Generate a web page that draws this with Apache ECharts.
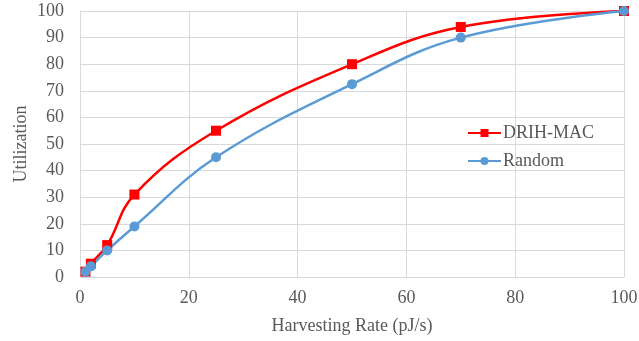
<!DOCTYPE html>
<html>
<head>
<meta charset="utf-8">
<script src="https://cdn.jsdelivr.net/npm/echarts@6/dist/echarts.min.js"></script>
<style>
  html, body { margin: 0; padding: 0; background: #fff; }
  #chart { width: 639px; height: 341px; }
</style>
</head>
<body>
<div id="chart"></div>
<script>
// data
const rates = [1, 2, 5, 10, 25, 50, 70, 100];
const drihMac = [2, 5, 12, 31, 55, 80, 94, 100];
const randomUtil = [2, 4, 10, 19, 45, 72.5, 90, 100];

const pair = (xs, ys) => xs.map((x, i) => [x, ys[i]]);

const font = 'Liberation Serif, Times New Roman, serif';
const grey = '#595959';
const gridColor = '#d9d9d9';

const chart = echarts.init(document.getElementById('chart'));

chart.setOption({
    animation: false,
    textStyle: { fontFamily: font },
    grid: { left: 80, right: 15, top: 11, bottom: 64, outerBoundsMode: 'none' },
    legend: {
        orient: 'vertical',
        left: 462,
        top: 119,
        itemWidth: 33,
        itemHeight: 10,
        itemGap: 10,
        textStyle: { fontFamily: font, fontSize: 18, color: grey, padding: [0, 0, 0, -3] },
        data: ['DRIH-MAC', 'Random']
    },
    xAxis: {
        type: 'value',
        min: 0,
        max: 100,
        interval: 20,
        name: 'Harvesting Rate (pJ/s)',
        nameLocation: 'middle',
        nameGap: 40,
        nameMoveOverlap: false,
        nameTextStyle: { fontFamily: font, fontSize: 18, color: grey },
        axisLine: { lineStyle: { color: gridColor, width: 1 } },
        axisTick: { show: false },
        axisLabel: { fontFamily: font, fontSize: 18, color: grey, margin: 12 },
        splitLine: { lineStyle: { color: gridColor, width: 1 } }
    },
    yAxis: {
        type: 'value',
        min: 0,
        max: 100,
        interval: 10,
        name: 'Utilization',
        nameLocation: 'middle',
        nameGap: 50,
        nameMoveOverlap: false,
        nameTextStyle: { fontFamily: font, fontSize: 18, color: grey },
        axisLine: { show: true, lineStyle: { color: gridColor, width: 1 } },
        axisTick: { show: false },
        axisLabel: { fontFamily: font, fontSize: 18, color: grey, margin: 16 },
        splitLine: { lineStyle: { color: gridColor, width: 1 } }
    },
    series: [
        {
            name: 'DRIH-MAC',
            type: 'line',
            smooth: 0.4,
            data: pair(rates, drihMac),
            symbol: 'rect',
            symbolSize: 10,
            lineStyle: { color: '#ff0000', width: 2.5 },
            itemStyle: { color: '#ff0000' }
        },
        {
            name: 'Random',
            type: 'line',
            smooth: 0.4,
            data: pair(rates, randomUtil),
            symbol: 'circle',
            symbolSize: 10,
            lineStyle: { color: '#5b9bd5', width: 2.5 },
            itemStyle: { color: '#5b9bd5' }
        }
    ]
});
</script>
</body>
</html>
